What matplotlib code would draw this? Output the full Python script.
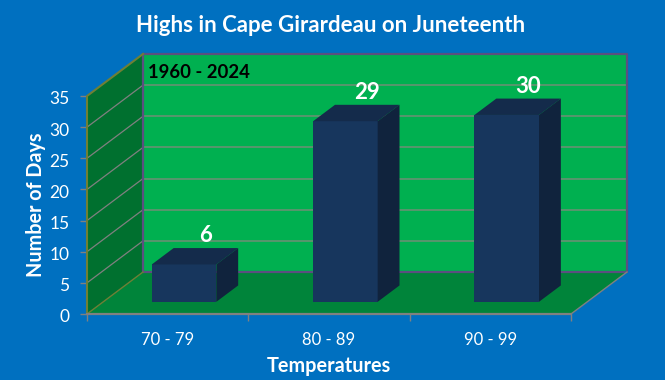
import matplotlib
matplotlib.use('Agg')
import matplotlib.pyplot as plt
from matplotlib.patches import Polygon
from matplotlib.transforms import ScaledTranslation

plt.rcParams['font.family'] = ['Lato', 'DejaVu Sans']

# Data
categories = ['70 - 79', '80 - 89', '90 - 99']
days = [6, 29, 30]
y_ticks = [0, 5, 10, 15, 20, 25, 30, 35]

# 3D look: how far the back wall is shifted from the front plane, in data units
DEPTH_X = 56 / 161.33
DEPTH_Y = 42 / 6.229

W, H = 665, 380
fig = plt.figure(figsize=(W / 100, H / 100), dpi=100, facecolor='#0070C0')
# axes box is the front plane of the 3D box
ax = fig.add_axes([87 / W, (H - 314) / H, 484 / W, 218 / H])
ax.set_xlim(0, 3)
ax.set_ylim(0, 35)
ax.patch.set_visible(False)


def proj(x, y, z):
    # oblique projection, z=0 front and z=1 back wall
    return (x + z * DEPTH_X, y + z * DEPTH_Y)


def face(points, color, zorder=1, ec='none', lw=0):
    ax.add_patch(Polygon(points, closed=True, fc=color, ec=ec, lw=lw,
                         zorder=zorder, clip_on=False))


# walls and floor
face([proj(0, 0, 1), proj(3, 0, 1), proj(3, 35, 1), proj(0, 35, 1)], '#00B050')
face([proj(0, 0, 0), proj(0, 0, 1), proj(0, 35, 1), proj(0, 35, 0)], '#00702F')
face([proj(0, 0, 0), proj(3, 0, 0), proj(3, 0, 1), proj(0, 0, 1)], '#00843A')

# gridlines
for t in y_ticks[1:-1]:
    xs, ys = zip(proj(0, t, 0), proj(0, t, 1))
    ax.plot(xs, ys, color='#808080', lw=0.9, zorder=2, clip_on=False)
    xs, ys = zip(proj(0, t, 1), proj(3, t, 1))
    ax.plot(xs, ys, color='#5F9470', lw=1.3, zorder=2, clip_on=False)

# wall and floor edges
xs, ys = zip(proj(0, 35, 1), proj(3, 35, 1), proj(3, 0, 1), proj(0, 0, 1), proj(0, 35, 1))
ax.plot(xs, ys, color='#5B4F80', lw=1.6, zorder=3, clip_on=False)
xs, ys = zip(proj(0, 0, 0), proj(0, 35, 0), proj(0, 35, 1))
ax.plot(xs, ys, color='#6F7F35', lw=1.5, zorder=3, clip_on=False)
xs, ys = zip(proj(0, 0, 0), proj(0, 0, 1))
ax.plot(xs, ys, color='#6F7F35', lw=1.0, zorder=3, clip_on=False)
xs, ys = zip(proj(3, 0, 0), proj(3, 0, 1))
ax.plot(xs, ys, color='#808080', lw=1.0, zorder=3, clip_on=False)

# bars
bar_w = 0.4
z0, z1 = 0.29, 0.68
for i, d in enumerate(days):
    x0 = i + 0.5 - bar_w / 2 + 0.001
    x1 = x0 + bar_w
    face([proj(x0, 0, z0), proj(x1, 0, z0), proj(x1, d, z0), proj(x0, d, z0)], '#17365D', 4)
    face([proj(x0, d, z0), proj(x1, d, z0), proj(x1, d, z1), proj(x0, d, z1)], '#142B4B', 4)
    face([proj(x1, 0, z0), proj(x1, 0, z1), proj(x1, d, z1), proj(x1, d, z0)], '#10233D', 4)
    lx, ly = proj((x0 + x1) / 2, d, z1)
    ax.annotate(str(d), (lx, ly), xytext=(-0.5, 1.5), textcoords='offset points',
                ha='center', va='bottom', color='white', fontsize=16,
                fontweight='bold', zorder=5, annotation_clip=False)

# axes and ticks
for side in ['top', 'right', 'left']:
    ax.spines[side].set_visible(False)
ax.spines['bottom'].set_color('#808080')
ax.spines['bottom'].set_linewidth(1.6)
ax.spines['bottom'].set_zorder(6)

ax.set_yticks(y_ticks)
ax.tick_params(axis='y', colors='white', color='#808080', length=5, width=1,
               labelsize=12.5, pad=7.5)
ax.set_xticks([0, 1, 2, 3])
ax.set_xticklabels([])
ax.set_xticks([0.5, 1.5, 2.5], minor=True)
ax.set_xticklabels(categories, minor=True)
ax.tick_params(axis='x', which='major', color='#808080', length=5, width=1)
ax.tick_params(axis='x', which='minor', length=0, colors='white', labelsize=12, pad=13)

# nudge y tick labels down a little, Lato digits sit high
shift = ScaledTranslation(0, -2 / 100, fig.dpi_scale_trans)
for lab in ax.get_yticklabels():
    lab.set_transform(lab.get_transform() + shift)

ax.set_xlabel('Temperatures', color='white', fontsize=14.3, fontweight='bold', va='center')
ax.set_ylabel('Number of Days', color='white', fontsize=14.2, fontweight='bold', va='center')
ax.xaxis.set_label_coords(0.5, -0.2385)
ax.yaxis.set_label_coords(-0.105, 0.5)

fig.text(331 / W, (H - 25) / H, 'Highs in Cape Girardeau on Juneteenth', color='white',
         fontsize=16, fontweight='bold', ha='center', va='center')
fig.text(148 / W, (H - 72) / H, '1960 - 2024', color='black', fontsize=13.3,
         fontweight='bold', ha='left', va='center', zorder=10)

fig.savefig('out.png', dpi=100, facecolor=fig.get_facecolor())
